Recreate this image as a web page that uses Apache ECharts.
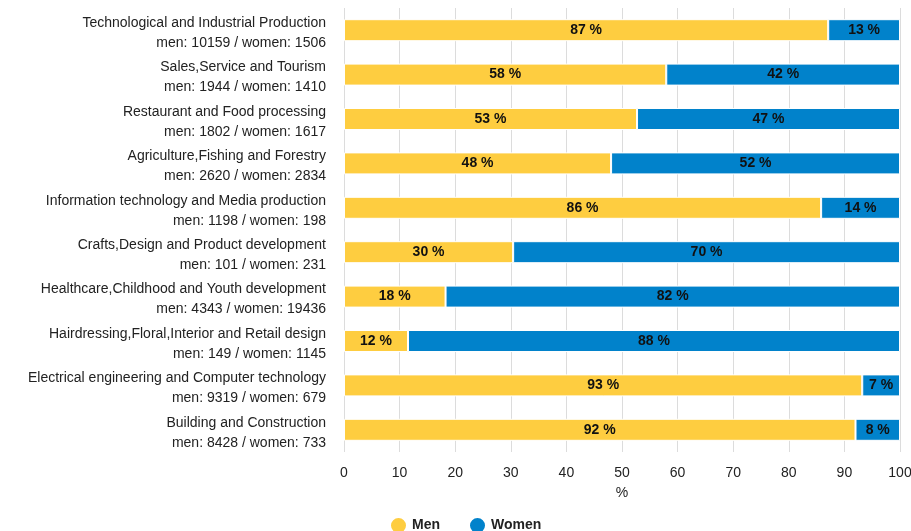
<!DOCTYPE html>
<html>
<head>
<meta charset="utf-8">
<script src="https://cdn.jsdelivr.net/npm/echarts@6/dist/echarts.min.js"></script>
<style>
  html, body { margin: 0; padding: 0; background: #fff; }
  #chart { width: 911px; height: 531px; }
</style>
</head>
<body>
<div id="chart"></div>
<script>
// Occupational fields (top to bottom as drawn)
const fields = [
  'Technological and Industrial Production',
  'Sales,Service and Tourism',
  'Restaurant and Food processing',
  'Agriculture,Fishing and Forestry',
  'Information technology and Media production',
  'Crafts,Design and Product development',
  'Healthcare,Childhood and Youth development',
  'Hairdressing,Floral,Interior and Retail design',
  'Electrical engineering and Computer technology',
  'Building and Construction'
];
// Head counts per field
const menCounts   = [10159, 1944, 1802, 2620, 1198, 101, 4343, 149, 9319, 8428];
const womenCounts = [1506, 1410, 1617, 2834, 198, 231, 19436, 1145, 679, 733];
const xTicks = [0, 10, 20, 30, 40, 50, 60, 70, 80, 90, 100];

// Share of each group within a field, in percent
const share = (a, b) => a.map((v, i) => 100 * v / (v + b[i]));
const menShare = share(menCounts, womenCounts);
const womenShare = share(womenCounts, menCounts);

// Category axis runs bottom-up, so reverse to keep the first field on top
const order = fields.map((_, i) => i).reverse();
const cats = order.map(i => fields[i] + '\nmen: ' + menCounts[i] + ' / women: ' + womenCounts[i]);

const font = 'Liberation Sans, Arial, sans-serif';
const labelText = { fontSize: 14, color: '#222', fontFamily: font };
const segLabel = {
  show: true,
  position: 'inside',
  color: '#111',
  fontWeight: 'bold',
  fontSize: 14,
  fontFamily: font,
  formatter: p => Math.round(p.value) + ' %'
};

const chart = echarts.init(document.getElementById('chart'));
chart.setOption({
  animation: false,
  textStyle: { fontFamily: font },
  grid: { left: 344, right: 11, top: 8, bottom: 79, containLabel: false, outerBoundsMode: 'none' },
  legend: {
    top: 516,
    left: 389,
    padding: 0,
    icon: 'circle',
    itemWidth: 17,
    itemHeight: 17,
    itemGap: 28,
    textStyle: { fontSize: 14, fontWeight: 'bold', color: '#222', fontFamily: font },
    data: ['Men', 'Women']
  },
  xAxis: {
    type: 'value',
    min: xTicks[0],
    max: xTicks[xTicks.length - 1],
    interval: 10,
    name: '%',
    nameLocation: 'middle',
    nameGap: 34,
    nameTextStyle: { fontSize: 14, color: '#222', fontFamily: font },
    axisLine: { show: false },
    axisTick: { show: false },
    axisLabel: { fontSize: 14, color: '#222', margin: 14, fontFamily: font },
    splitLine: { show: true, lineStyle: { color: '#dcdcdc', width: 1 } }
  },
  yAxis: {
    type: 'category',
    data: cats,
    axisLine: { show: false },
    axisTick: { show: false },
    axisLabel: {
      margin: 18,
      align: 'right',
      formatter: v => {
        const [name, counts] = v.split('\n');
        return '{a|' + name + '}\n{b|' + counts + '}';
      },
      rich: {
        a: Object.assign({ lineHeight: 26, align: 'right' }, labelText),
        b: Object.assign({ lineHeight: 14, align: 'right' }, labelText)
      }
    }
  },
  series: [
    {
      name: 'Men',
      type: 'bar',
      stack: 'total',
      barWidth: 22,
      itemStyle: { color: '#fecd40', borderColor: '#fff', borderWidth: 1 },
      label: segLabel,
      data: order.map(i => menShare[i])
    },
    {
      name: 'Women',
      type: 'bar',
      stack: 'total',
      barWidth: 22,
      itemStyle: { color: '#0182cb', borderColor: '#fff', borderWidth: 1 },
      label: segLabel,
      data: order.map(i => womenShare[i])
    }
  ]
});
</script>
</body>
</html>
